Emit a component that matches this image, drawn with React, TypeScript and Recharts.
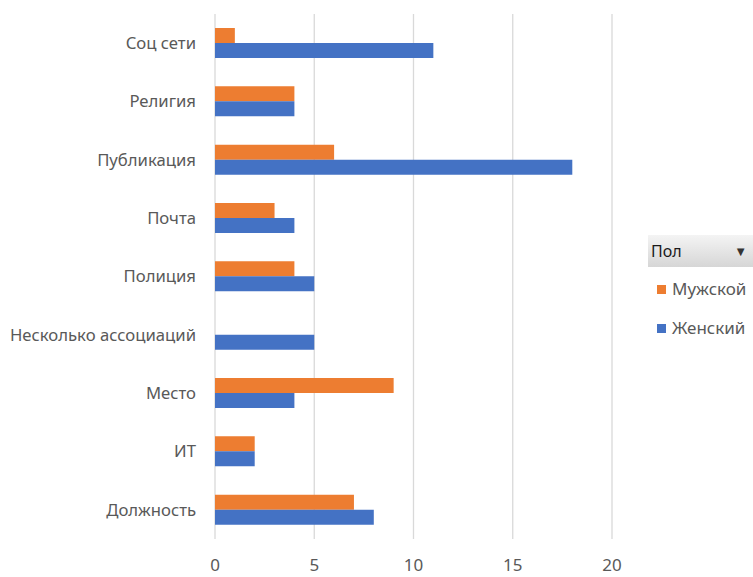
import React from "react";
import { BarChart, Bar, XAxis, YAxis, CartesianGrid } from "recharts";

const categories = [
  "Соц сети",
  "Религия",
  "Публикация",
  "Почта",
  "Полиция",
  "Несколько ассоциаций",
  "Место",
  "ИТ",
  "Должность",
];
const maleValues = [1, 4, 6, 3, 4, 0, 9, 2, 7];
const femaleValues = [11, 4, 18, 4, 5, 5, 4, 2, 8];
const xTicks = [0, 5, 10, 15, 20];

const MALE_COLOR = "#ED7D31";
const FEMALE_COLOR = "#4472C4";
const FONT = "'Noto Sans', sans-serif";

const chartData = categories.map((name, i) => ({
  name,
  male: maleValues[i],
  female: femaleValues[i],
}));

// Excel-style slicer legend: "Пол" header with a dropdown arrow
const PivotLegend = () => (
  <div style={{ position: "absolute", left: 648, top: 235, width: 105, fontFamily: FONT }}>
    <div
      style={{
        height: 32,
        background: "linear-gradient(#f4f4f4, #d6d6d6)",
        display: "flex",
        alignItems: "center",
        justifyContent: "space-between",
        padding: "0 6px 0 3px",
        boxSizing: "border-box",
        fontSize: 16,
        color: "#1a1a1a",
      }}
    >
      <span>Пол</span>
      <span style={{ fontSize: 13, color: "#333" }}>▼</span>
    </div>
    {[
      { label: "Мужской", color: MALE_COLOR },
      { label: "Женский", color: FEMALE_COLOR },
    ].map((item, i) => (
      <div
        key={item.label}
        style={{
          display: "flex",
          alignItems: "center",
          marginTop: i === 0 ? 11 : 17,
          marginLeft: 9,
          fontSize: 17,
          lineHeight: "22px",
          color: "#595959",
        }}
      >
        <div style={{ width: 9, height: 9, background: item.color, marginRight: 6 }} />
        <span>{item.label}</span>
      </div>
    ))}
  </div>
);

export default function App() {
  return (
    <div style={{ position: "absolute", left: 0, top: 0, width: 753, height: 577, background: "#fff" }}>
      <BarChart
        width={753}
        height={577}
        data={chartData}
        layout="vertical"
        margin={{ top: 14, right: 141, left: 0, bottom: 0 }}
        barSize={15}
        barGap={0}
      >
        <CartesianGrid horizontal={false} stroke="#d9d9d9" strokeWidth={1.3} />
        <XAxis
          type="number"
          domain={[0, 20]}
          ticks={xTicks}
          axisLine={false}
          tickLine={false}
          tickSize={0}
          tickMargin={20}
          height={38}
          tick={{ fill: "#595959", fontSize: 17, fontFamily: FONT }}
        />
        <YAxis
          type="category"
          dataKey="name"
          width={215}
          axisLine={false}
          tickLine={false}
          tickSize={0}
          tickMargin={19}
          interval={0}
          tick={{ fill: "#595959", fontSize: 16.7, fontFamily: FONT }}
        />
        <Bar dataKey="male" name="Мужской" fill={MALE_COLOR} isAnimationActive={false} />
        <Bar dataKey="female" name="Женский" fill={FEMALE_COLOR} isAnimationActive={false} />
      </BarChart>
      <PivotLegend />
    </div>
  );
}
